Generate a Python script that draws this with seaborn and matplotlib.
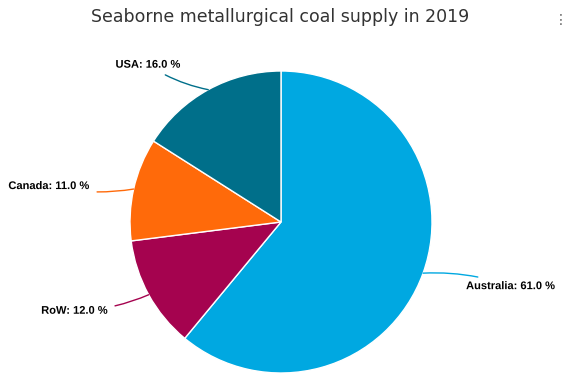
import numpy as np
import matplotlib
matplotlib.use("Agg")
import matplotlib.pyplot as plt
import matplotlib.patheffects as pe
import seaborn as sns

# datos del gráfico (orden horario desde arriba)
countries = ["Australia", "RoW", "Canada", "USA"]
shares = [61.0, 12.0, 11.0, 16.0]
colors = sns.color_palette(["#00A8E1", "#A5034F", "#FF6A0A", "#006F8A"])
title = "Seaborne metallurgical coal supply in 2019"

# desplazamiento de cada etiqueta respecto al borde del sector (pixeles)
label_offsets = [(43, -13), (-41, -16), (-44, 3), (-28, 25)]

sns.set_theme(style="white")
plt.rcParams["font.family"] = ["DejaVu Sans"]

W, H = 568, 386
fig = plt.figure(figsize=(W / 100, H / 100), dpi=100)
ax = fig.add_axes([0, 0, 1, 1])

cx, cy, r = 281, H - 222, 151
wedges, _ = ax.pie(shares, colors=colors, startangle=90, counterclock=False,
                   center=(cx, cy), radius=r, frame=True,
                   wedgeprops=dict(edgecolor="white", linewidth=1))
ax.set_xlim(0, W)
ax.set_ylim(0, H)
ax.set_aspect("equal")
ax.axis("off")

halo = [pe.withStroke(linewidth=2, foreground="white")]
for w, name, val, col, off in zip(wedges, countries, shares, colors, label_offsets):
    ang = np.deg2rad((w.theta1 + w.theta2) / 2)
    ex, ey = cx + r * np.cos(ang), cy + r * np.sin(ang)
    ha = "left" if off[0] > 0 else "right"
    ax.annotate(f"{name}: {val:.1f} %", xy=(ex, ey), xytext=off,
                textcoords="offset pixels", ha=ha, va="center",
                fontsize=8, fontweight="bold", color="black",
                family=["Liberation Sans", "DejaVu Sans"],
                path_effects=halo,
                arrowprops=dict(arrowstyle="-", color=col, lw=1,
                                shrinkA=3, shrinkB=0,
                                connectionstyle="arc3,rad=0.1"))

fig.text(280 / W, 1 - 17 / H, title, ha="center", va="center",
         fontsize=12.5, color="#333333")
fig.text(561 / W, 1 - 20 / H, "⋮", ha="center", va="center",
         fontsize=10, color="#666666")

fig.savefig("out.png", dpi=100)
